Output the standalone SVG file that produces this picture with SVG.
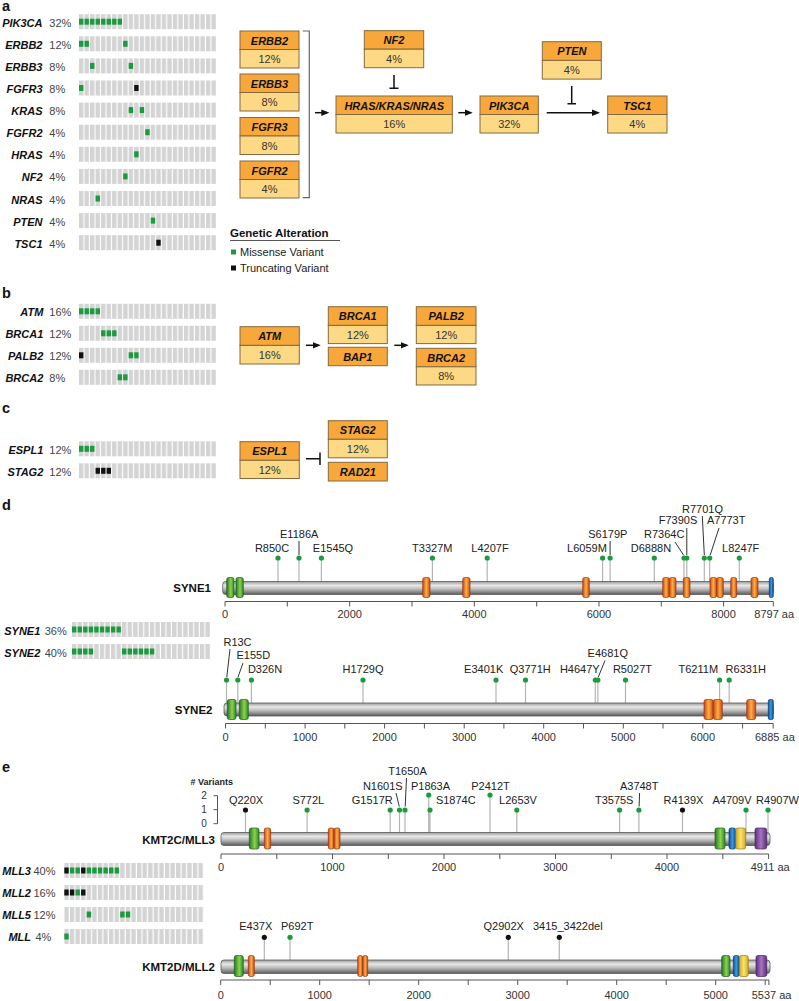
<svg xmlns="http://www.w3.org/2000/svg" width="799" height="1001" viewBox="0 0 799 1001">
<defs>
<style>
text{font-family:"Liberation Sans",Arial,sans-serif}
.pl{font-size:14.5px;font-weight:bold;fill:#111}
.gn{font-size:11px;font-weight:bold;font-style:italic;text-anchor:end;fill:#111}
.pc{font-size:11px;fill:#444}
.bh{font-size:11px;font-weight:bold;font-style:italic;text-anchor:middle;fill:#111}
.bb{font-size:11px;text-anchor:middle;fill:#333}
.hd{fill:#f8a83a;stroke:#85693c;stroke-width:1}
.bd{fill:#fdd985;stroke:#85693c;stroke-width:1}
.g{fill:#1b9a3e}
.k{fill:#111}
.ml{font-size:11px;text-anchor:middle;fill:#222}
.tk{font-size:11px;text-anchor:middle;fill:#333}
.tks{font-size:11px;fill:#333}
.pn{font-size:11.5px;font-weight:bold;text-anchor:end;fill:#111}
.st{stroke:#b4b4b4;stroke-width:1.2;fill:none}
.cn{stroke:#333;stroke-width:1;fill:none}
.ax{stroke:#555;stroke-width:1;fill:none}
.bar{fill:url(#gBar);stroke:#5a5a5a;stroke-width:0.8}
.dO{fill:url(#gO);stroke:#9a3512;stroke-width:0.7}
.dG{fill:url(#gG);stroke:#235f22;stroke-width:0.7}
.dB{fill:url(#gB);stroke:#0c3f7a;stroke-width:0.7}
.dY{fill:url(#gY);stroke:#9a7a18;stroke-width:0.7}
.dP{fill:url(#gP);stroke:#4a2460;stroke-width:0.7}
.conn{stroke:#111;stroke-width:1.5;fill:none}
.brk{stroke:#666;stroke-width:1.2;fill:none}
.lg{font-size:11px;fill:#222}
</style>
<pattern id="pA" width="5.52" height="40" patternUnits="userSpaceOnUse"><rect width="4.4" height="40" fill="#d4d4d4"/></pattern>
<pattern id="pD" width="5.56" height="40" patternUnits="userSpaceOnUse"><rect width="4.4" height="40" fill="#d4d4d4"/></pattern>
<pattern id="pE" width="5.59" height="40" patternUnits="userSpaceOnUse"><rect width="4.4" height="40" fill="#d4d4d4"/></pattern>
<linearGradient id="gBar" x1="0" y1="0" x2="0" y2="1"><stop offset="0" stop-color="#9a9a9a"/><stop offset="0.3" stop-color="#e8e8e8"/><stop offset="0.6" stop-color="#b8b8b8"/><stop offset="1" stop-color="#5a5a5a"/></linearGradient>
<linearGradient id="gO" x1="0" y1="0" x2="1" y2="0"><stop offset="0" stop-color="#cc4420"/><stop offset="0.5" stop-color="#fbb33e"/><stop offset="1" stop-color="#cc4420"/></linearGradient>
<linearGradient id="gG" x1="0" y1="0" x2="1" y2="0"><stop offset="0" stop-color="#1f7a2a"/><stop offset="0.55" stop-color="#8fd14a"/><stop offset="1" stop-color="#2a8a2e"/></linearGradient>
<linearGradient id="gB" x1="0" y1="0" x2="1" y2="0"><stop offset="0" stop-color="#0d4f9a"/><stop offset="0.5" stop-color="#3a9ae0"/><stop offset="1" stop-color="#0d4f9a"/></linearGradient>
<linearGradient id="gY" x1="0" y1="0" x2="1" y2="0"><stop offset="0" stop-color="#d2a824"/><stop offset="0.5" stop-color="#fbe36a"/><stop offset="1" stop-color="#d2a824"/></linearGradient>
<linearGradient id="gP" x1="0" y1="0" x2="1" y2="0"><stop offset="0" stop-color="#5e2f7a"/><stop offset="0.5" stop-color="#a574c4"/><stop offset="1" stop-color="#5e2f7a"/></linearGradient>
<marker id="ah" viewBox="0 0 8 8" refX="6" refY="4" markerWidth="8" markerHeight="8" markerUnits="userSpaceOnUse" orient="auto"><path d="M0,0.8 L8,4 L0,7.2z" fill="#111"/></marker>
</defs>
<rect width="799" height="1001" fill="#fff"/>

<!-- panel letters -->
<text class="pl" x="2" y="11">a</text>
<text class="pl" x="2" y="298">b</text>
<text class="pl" x="2" y="413">c</text>
<text class="pl" x="2" y="510">d</text>
<text class="pl" x="2" y="771.5">e</text>

<!-- panel a oncoprint -->
<g id="onco-a">
<text class="gn" x="42.5" y="26.7">PIK3CA</text><text class="pc" x="49.3" y="26.7">32%</text>
<text class="gn" x="42.5" y="48.8">ERBB2</text><text class="pc" x="49.3" y="48.8">12%</text>
<text class="gn" x="42.5" y="70.9">ERBB3</text><text class="pc" x="49.3" y="70.9">8%</text>
<text class="gn" x="42.5" y="93">FGFR3</text><text class="pc" x="49.3" y="93">8%</text>
<text class="gn" x="42.5" y="115.1">KRAS</text><text class="pc" x="49.3" y="115.1">8%</text>
<text class="gn" x="42.5" y="137.2">FGFR2</text><text class="pc" x="49.3" y="137.2">4%</text>
<text class="gn" x="42.5" y="159.3">HRAS</text><text class="pc" x="49.3" y="159.3">4%</text>
<text class="gn" x="42.5" y="181.4">NF2</text><text class="pc" x="49.3" y="181.4">4%</text>
<text class="gn" x="42.5" y="203.5">NRAS</text><text class="pc" x="49.3" y="203.5">4%</text>
<text class="gn" x="42.5" y="225.6">PTEN</text><text class="pc" x="49.3" y="225.6">4%</text>
<text class="gn" x="42.5" y="247.7">TSC1</text><text class="pc" x="49.3" y="247.7">4%</text>
<g transform="translate(79,0)">
<rect x="0" y="14.2" width="138" height="15" fill="url(#pA)"/>
<rect x="0" y="36.3" width="138" height="15" fill="url(#pA)"/>
<rect x="0" y="58.4" width="138" height="15" fill="url(#pA)"/>
<rect x="0" y="80.5" width="138" height="15" fill="url(#pA)"/>
<rect x="0" y="102.6" width="138" height="15" fill="url(#pA)"/>
<rect x="0" y="124.7" width="138" height="15" fill="url(#pA)"/>
<rect x="0" y="146.8" width="138" height="15" fill="url(#pA)"/>
<rect x="0" y="168.9" width="138" height="15" fill="url(#pA)"/>
<rect x="0" y="191" width="138" height="15" fill="url(#pA)"/>
<rect x="0" y="213.1" width="138" height="15" fill="url(#pA)"/>
<rect x="0" y="235.2" width="138" height="15" fill="url(#pA)"/>
<rect class="g" x="0" y="18.7" width="4.4" height="6"/><rect class="g" x="5.52" y="18.7" width="4.4" height="6"/><rect class="g" x="11.04" y="18.7" width="4.4" height="6"/><rect class="g" x="16.56" y="18.7" width="4.4" height="6"/><rect class="g" x="22.08" y="18.7" width="4.4" height="6"/><rect class="g" x="27.6" y="18.7" width="4.4" height="6"/><rect class="g" x="33.12" y="18.7" width="4.4" height="6"/><rect class="g" x="38.64" y="18.7" width="4.4" height="6"/>
<rect class="g" x="0" y="40.8" width="4.4" height="6"/><rect class="g" x="5.52" y="40.8" width="4.4" height="6"/><rect class="g" x="44.16" y="40.8" width="4.4" height="6"/>
<rect class="g" x="11.04" y="62.9" width="4.4" height="6"/><rect class="g" x="49.68" y="62.9" width="4.4" height="6"/>
<rect class="g" x="0" y="85" width="4.4" height="6"/><rect class="k" x="55.2" y="85" width="4.4" height="6"/>
<rect class="g" x="49.68" y="107.1" width="4.4" height="6"/><rect class="g" x="60.72" y="107.1" width="4.4" height="6"/>
<rect class="g" x="66.24" y="129.2" width="4.4" height="6"/>
<rect class="g" x="55.2" y="151.3" width="4.4" height="6"/>
<rect class="g" x="44.16" y="173.4" width="4.4" height="6"/>
<rect class="g" x="16.56" y="195.5" width="4.4" height="6"/>
<rect class="g" x="71.76" y="217.6" width="4.4" height="6"/>
<rect class="k" x="77.28" y="239.7" width="4.4" height="6"/>
</g>
</g>

<!-- legend -->
<g id="legend">
<text x="230" y="237" style="font-size:11.5px;font-weight:bold;fill:#111">Genetic Alteration</text>
<path d="M230,240.5 H340" class="ax"/>
<rect class="g" x="231" y="249.5" width="5" height="5"/>
<text class="lg" x="240" y="256">Missense Variant</text>
<rect class="k" x="231" y="265.5" width="5" height="5"/>
<text class="lg" x="240" y="272">Truncating Variant</text>
</g>

<!-- panel a pathway nodes -->
<g id="n-ERBB2"><rect class="hd" x="240" y="31" width="59" height="18.5"/><rect class="bd" x="240" y="49.5" width="59" height="18.5"/><text class="bh" x="269.5" y="44.5">ERBB2</text><text class="bb" x="269.5" y="63">12%</text></g>
<g id="n-ERBB3"><rect class="hd" x="240" y="74" width="59" height="18.5"/><rect class="bd" x="240" y="92.5" width="59" height="18.5"/><text class="bh" x="269.5" y="87.5">ERBB3</text><text class="bb" x="269.5" y="106">8%</text></g>
<g id="n-FGFR3"><rect class="hd" x="240" y="117.5" width="59" height="18.5"/><rect class="bd" x="240" y="136" width="59" height="18.5"/><text class="bh" x="269.5" y="131">FGFR3</text><text class="bb" x="269.5" y="149.5">8%</text></g>
<g id="n-FGFR2"><rect class="hd" x="240" y="161" width="59" height="18.5"/><rect class="bd" x="240" y="179.5" width="59" height="18.5"/><text class="bh" x="269.5" y="174.5">FGFR2</text><text class="bb" x="269.5" y="193">4%</text></g>
<g id="n-NF2"><rect class="hd" x="364.3" y="30.7" width="59.4" height="18.5"/><rect class="bd" x="364.3" y="49.2" width="59.4" height="18.5"/><text class="bh" x="394" y="44.2">NF2</text><text class="bb" x="394" y="62.7">4%</text></g>
<g id="n-HRAS"><rect class="hd" x="336" y="96" width="116.3" height="18.5"/><rect class="bd" x="336" y="114.5" width="116.3" height="18.5"/><text class="bh" x="394.2" y="109.5">HRAS/KRAS/NRAS</text><text class="bb" x="394.2" y="128">16%</text></g>
<g id="n-PIK3CA"><rect class="hd" x="480" y="96" width="58.3" height="18.5"/><rect class="bd" x="480" y="114.5" width="58.3" height="18.5"/><text class="bh" x="509.2" y="109.5">PIK3CA</text><text class="bb" x="509.2" y="128">32%</text></g>
<g id="n-PTEN"><rect class="hd" x="542.3" y="41.7" width="59" height="18.7"/><rect class="bd" x="542.3" y="60.4" width="59" height="18.7"/><text class="bh" x="571.8" y="55.2">PTEN</text><text class="bb" x="571.8" y="73.9">4%</text></g>
<g id="n-TSC1"><rect class="hd" x="607.7" y="96" width="59.3" height="18.5"/><rect class="bd" x="607.7" y="114.5" width="59.3" height="18.5"/><text class="bh" x="637.3" y="109.5">TSC1</text><text class="bb" x="637.3" y="128">4%</text></g>

<!-- panel b oncoprint -->
<g id="onco-b">
<text class="gn" x="43.3" y="316.3">ATM</text><text class="pc" x="49.3" y="316.3">16%</text>
<text class="gn" x="43.3" y="338.3">BRCA1</text><text class="pc" x="49.3" y="338.3">12%</text>
<text class="gn" x="43.3" y="360.3">PALB2</text><text class="pc" x="49.3" y="360.3">12%</text>
<text class="gn" x="43.3" y="382.3">BRCA2</text><text class="pc" x="49.3" y="382.3">8%</text>
<g transform="translate(79,0)">
<rect x="0" y="303.8" width="138" height="15" fill="url(#pA)"/>
<rect x="0" y="325.8" width="138" height="15" fill="url(#pA)"/>
<rect x="0" y="347.8" width="138" height="15" fill="url(#pA)"/>
<rect x="0" y="369.8" width="138" height="15" fill="url(#pA)"/>
<rect class="g" x="0" y="308.3" width="4.4" height="6"/><rect class="g" x="5.52" y="308.3" width="4.4" height="6"/><rect class="g" x="11.04" y="308.3" width="4.4" height="6"/><rect class="g" x="16.56" y="308.3" width="4.4" height="6"/>
<rect class="g" x="22.08" y="330.3" width="4.4" height="6"/><rect class="g" x="27.6" y="330.3" width="4.4" height="6"/><rect class="g" x="33.12" y="330.3" width="4.4" height="6"/>
<rect class="k" x="0" y="352.3" width="4.4" height="6"/><rect class="g" x="49.68" y="352.3" width="4.4" height="6"/><rect class="g" x="55.2" y="352.3" width="4.4" height="6"/>
<rect class="g" x="38.64" y="374.3" width="4.4" height="6"/><rect class="g" x="44.16" y="374.3" width="4.4" height="6"/>
</g>
</g>

<!-- panel b nodes -->
<g id="n-ATM"><rect class="hd" x="240" y="326.7" width="59.3" height="18.7"/><rect class="bd" x="240" y="345.4" width="59.3" height="18.6"/><text class="bh" x="269.7" y="340.2">ATM</text><text class="bb" x="269.7" y="358.8">16%</text></g>
<g id="n-BRCA1"><rect class="hd" x="328.3" y="306.7" width="59" height="18.7"/><rect class="bd" x="328.3" y="325.4" width="59" height="18.2"/><text class="bh" x="357.8" y="320.2">BRCA1</text><text class="bb" x="357.8" y="338.8">12%</text></g>
<g id="n-BAP1"><rect class="hd" x="328.3" y="347.3" width="59" height="18.4"/><text class="bh" x="357.8" y="360.8">BAP1</text></g>
<g id="n-PALB2"><rect class="hd" x="416.3" y="306.7" width="59.7" height="18.7"/><rect class="bd" x="416.3" y="325.4" width="59.7" height="18.2"/><text class="bh" x="446.2" y="320.2">PALB2</text><text class="bb" x="446.2" y="338.8">12%</text></g>
<g id="n-BRCA2"><rect class="hd" x="416.3" y="348.3" width="59.7" height="18.5"/><rect class="bd" x="416.3" y="366.8" width="59.7" height="18.2"/><text class="bh" x="446.2" y="361.8">BRCA2</text><text class="bb" x="446.2" y="380.3">8%</text></g>

<!-- panel c oncoprint -->
<g id="onco-c">
<text class="gn" x="43.3" y="453.8">ESPL1</text><text class="pc" x="49.3" y="453.8">12%</text>
<text class="gn" x="43.3" y="475.8">STAG2</text><text class="pc" x="49.3" y="475.8">12%</text>
<g transform="translate(79,0)">
<rect x="0" y="441.3" width="138" height="15" fill="url(#pA)"/>
<rect x="0" y="463.3" width="138" height="15" fill="url(#pA)"/>
<rect class="g" x="0" y="445.8" width="4.4" height="6"/><rect class="g" x="5.52" y="445.8" width="4.4" height="6"/><rect class="g" x="11.04" y="445.8" width="4.4" height="6"/>
<rect class="k" x="16.56" y="467.8" width="4.4" height="6"/><rect class="k" x="22.08" y="467.8" width="4.4" height="6"/><rect class="k" x="27.6" y="467.8" width="4.4" height="6"/>
</g>
</g>

<!-- panel c nodes -->
<g id="n-ESPL1"><rect class="hd" x="240" y="441.7" width="59.3" height="18.6"/><rect class="bd" x="240" y="460.3" width="59.3" height="18.2"/><text class="bh" x="269.7" y="455.2">ESPL1</text><text class="bb" x="269.7" y="474">12%</text></g>
<g id="n-STAG2"><rect class="hd" x="328.3" y="420.7" width="59" height="18.6"/><rect class="bd" x="328.3" y="439.3" width="59" height="18.5"/><text class="bh" x="357.8" y="434.2">STAG2</text><text class="bb" x="357.8" y="452.8">12%</text></g>
<g id="n-RAD21"><rect class="hd" x="328.3" y="462.3" width="59" height="18.7"/><text class="bh" x="357.8" y="476">RAD21</text></g>

<!-- connectors -->
<g id="connectors">
<path class="brk" d="M302.7,31 H309.3 V197.7 H302.7"/>
<path class="conn" d="M315,112.7 H327.3" marker-end="url(#ah)"/>
<path class="conn" d="M394,75 V88.3 M389.5,88.3 H398.5"/>
<path class="conn" d="M458.3,112.7 H470.7" marker-end="url(#ah)"/>
<path class="conn" d="M546.7,112.7 H598" marker-end="url(#ah)"/>
<path class="conn" d="M571.7,86 V103.7 M567.5,103.7 H576"/>
<path class="conn" d="M306,345.3 H318.7" marker-end="url(#ah)"/>
<path class="conn" d="M394.3,345.3 H406.7" marker-end="url(#ah)"/>
<path class="conn" d="M306,458.7 H320 M320,452.5 V465"/>
</g>

<!-- panel d oncoprint -->
<g id="onco-d">
<text class="gn" x="40.3" y="634.5">SYNE1</text><text class="pc" x="44.7" y="634.5">36%</text>
<text class="gn" x="40.3" y="656.5">SYNE2</text><text class="pc" x="44.7" y="656.5">40%</text>
<g transform="translate(72,0)">
<rect x="0" y="622" width="139" height="15" fill="url(#pD)"/>
<rect x="0" y="644" width="139" height="15" fill="url(#pD)"/>
<rect class="g" x="0" y="626.5" width="4.4" height="6"/><rect class="g" x="5.56" y="626.5" width="4.4" height="6"/><rect class="g" x="11.12" y="626.5" width="4.4" height="6"/><rect class="g" x="16.68" y="626.5" width="4.4" height="6"/><rect class="g" x="22.24" y="626.5" width="4.4" height="6"/><rect class="g" x="27.8" y="626.5" width="4.4" height="6"/><rect class="g" x="33.36" y="626.5" width="4.4" height="6"/><rect class="g" x="38.92" y="626.5" width="4.4" height="6"/><rect class="g" x="44.48" y="626.5" width="4.4" height="6"/>
<rect class="g" x="0" y="648.5" width="4.4" height="6"/><rect class="g" x="5.56" y="648.5" width="4.4" height="6"/><rect class="g" x="11.12" y="648.5" width="4.4" height="6"/><rect class="g" x="16.68" y="648.5" width="4.4" height="6"/>
<rect class="g" x="50.04" y="648.5" width="4.4" height="6"/><rect class="g" x="55.6" y="648.5" width="4.4" height="6"/><rect class="g" x="61.16" y="648.5" width="4.4" height="6"/><rect class="g" x="66.72" y="648.5" width="4.4" height="6"/><rect class="g" x="72.28" y="648.5" width="4.4" height="6"/><rect class="g" x="77.84" y="648.5" width="4.4" height="6"/>
</g>
</g>

<!-- SYNE1 protein -->
<g id="p-SYNE1">
<text class="pn" x="211" y="592">SYNE1</text>
<path class="st" d="M278,558V582 M299,558V582 M321.4,558V582 M432.4,558V582 M487.2,558V582 M602.6,558V582 M610.1,558V582 M654.3,558V582 M684,558V582 M686.8,558V582 M704.3,558V582 M709.7,558V582 M739.3,558V582"/>
<path class="cn" d="M299,541V555 M610.1,541V555 M675,542L683.5,555 M686.8,528V555 M702.3,516L704.3,555 M719,528L710.2,555"/>
<rect class="bar" x="222.7" y="581.5" width="550.6" height="13" rx="3"/>
<rect class="dG" x="226.7" y="577.5" width="7.3" height="20" rx="2"/><rect class="dG" x="236" y="577.5" width="7.3" height="20" rx="2"/>
<rect class="dO" x="422.7" y="577.5" width="7.3" height="20" rx="2"/><rect class="dO" x="462.7" y="577.5" width="7.3" height="20" rx="2"/><rect class="dO" x="582.7" y="577.5" width="6.6" height="20" rx="2"/><rect class="dO" x="662.7" y="577.5" width="6.6" height="20" rx="2"/><rect class="dO" x="669.3" y="577.5" width="6.7" height="20" rx="2"/><rect class="dO" x="683.3" y="577.5" width="6.7" height="20" rx="2"/><rect class="dO" x="710" y="577.5" width="6.7" height="20" rx="2"/><rect class="dO" x="716.7" y="577.5" width="6.6" height="20" rx="2"/><rect class="dO" x="730.7" y="577.5" width="6" height="20" rx="2"/><rect class="dO" x="751" y="577.5" width="7" height="20" rx="2"/>
<rect class="dB" x="769.3" y="577.5" width="4" height="20" rx="1.5"/>
<g class="g"><circle cx="278" cy="558" r="2.6"/><circle cx="299" cy="558" r="2.6"/><circle cx="321.4" cy="558" r="2.6"/><circle cx="432.4" cy="558" r="2.6"/><circle cx="487.2" cy="558" r="2.6"/><circle cx="602.6" cy="558" r="2.6"/><circle cx="610.1" cy="558" r="2.6"/><circle cx="654.3" cy="558" r="2.6"/><circle cx="684" cy="558" r="2.6"/><circle cx="686.8" cy="558" r="2.6"/><circle cx="704.3" cy="558" r="2.6"/><circle cx="709.7" cy="558" r="2.6"/><circle cx="739.3" cy="558" r="2.6"/></g>
<text class="ml" x="272" y="552">R850C</text>
<text class="ml" x="299.2" y="538">E1186A</text>
<text class="ml" x="333" y="552">E1545Q</text>
<text class="ml" x="432.3" y="552">T3327M</text>
<text class="ml" x="490" y="552">L4207F</text>
<text class="ml" x="587" y="552">L6059M</text>
<text class="ml" x="607.8" y="538">S6179P</text>
<text class="ml" x="651" y="552">D6888N</text>
<text class="ml" x="664.2" y="538">R7364C</text>
<text class="ml" x="678" y="524.3">F7390S</text>
<text class="ml" x="702.5" y="512.7">R7701Q</text>
<text class="ml" x="726.2" y="524.3">A7773T</text>
<text class="ml" x="740.7" y="552">L8247F</text>
<path class="ax" d="M225,601.5H773.3 M225,601.5v5 M287.3,601.5v5 M349.7,601.5v5 M412,601.5v5 M474.3,601.5v5 M536.7,601.5v5 M599,601.5v5 M661.3,601.5v5 M723.6,601.5v5 M773.3,601.5v5"/>
<text class="tk" x="225" y="618">0</text><text class="tk" x="349.7" y="618">2000</text><text class="tk" x="474.3" y="618">4000</text><text class="tk" x="599" y="618">6000</text><text class="tk" x="723.6" y="618">8000</text><text class="tks" x="754.3" y="618">8797 aa</text>
</g>

<!-- SYNE2 protein -->
<g id="p-SYNE2">
<text class="pn" x="212.5" y="714">SYNE2</text>
<path class="st" d="M226.5,680V703 M237.8,680V703 M251.4,680V703 M363,680V703 M496,680V703 M525.5,680V703 M595.3,680V703 M597.9,680V703 M625.5,680V703 M719.6,680V703 M729.2,680V703"/>
<path class="cn" d="M230,649L226.8,677 M243,663L238,677 M605,660.5L598.3,677"/>
<rect class="bar" x="224" y="703" width="549.3" height="13" rx="3"/>
<rect class="dG" x="227.3" y="699.5" width="8.7" height="20" rx="2"/><rect class="dG" x="239.3" y="699.5" width="9" height="20" rx="2"/>
<rect class="dO" x="704" y="699.5" width="9.3" height="20" rx="2"/><rect class="dO" x="713.3" y="699.5" width="9" height="20" rx="2"/><rect class="dO" x="746.7" y="699.5" width="9" height="20" rx="2"/>
<rect class="dB" x="768.3" y="699.5" width="5" height="20" rx="1.5"/>
<g class="g"><circle cx="226.5" cy="680" r="2.6"/><circle cx="237.8" cy="680" r="2.6"/><circle cx="251.4" cy="680" r="2.6"/><circle cx="363" cy="680" r="2.6"/><circle cx="496" cy="680" r="2.6"/><circle cx="525.5" cy="680" r="2.6"/><circle cx="595.3" cy="680" r="2.6"/><circle cx="597.9" cy="680" r="2.6"/><circle cx="625.5" cy="680" r="2.6"/><circle cx="719.6" cy="680" r="2.6"/><circle cx="729.2" cy="680" r="2.6"/></g>
<text class="ml" x="237.5" y="645.7">R13C</text>
<text class="ml" x="253.3" y="659.3">E155D</text>
<text class="ml" x="265" y="673.3">D326N</text>
<text class="ml" x="363" y="673.3">H1729Q</text>
<text class="ml" x="483.7" y="673.3">E3401K</text>
<text class="ml" x="530.3" y="673.3">Q3771H</text>
<text class="ml" x="579.8" y="673.3">H4647Y</text>
<text class="ml" x="607.8" y="656.7">E4681Q</text>
<text class="ml" x="632.5" y="673.3">R5027T</text>
<text class="ml" x="698.3" y="673.3">T6211M</text>
<text class="ml" x="745.8" y="673.3">R6331H</text>
<path class="ax" d="M225.5,723.5H773.2 M225.5,723.5v5 M265.3,723.5v5 M305.1,723.5v5 M344.8,723.5v5 M384.6,723.5v5 M424.4,723.5v5 M464.2,723.5v5 M503.9,723.5v5 M543.7,723.5v5 M583.5,723.5v5 M623.3,723.5v5 M663,723.5v5 M702.8,723.5v5 M742.6,723.5v5 M773.2,723.5v5"/>
<text class="tk" x="225.5" y="740.5">0</text><text class="tk" x="305.1" y="740.5">1000</text><text class="tk" x="384.6" y="740.5">2000</text><text class="tk" x="464.2" y="740.5">3000</text><text class="tk" x="543.7" y="740.5">4000</text><text class="tk" x="623.3" y="740.5">5000</text><text class="tk" x="702.8" y="740.5">6000</text><text class="tks" x="755" y="740.5">6885 aa</text>
</g>

<!-- panel e oncoprint -->
<g id="onco-e">
<text class="gn" x="31" y="875">MLL3</text><text class="pc" x="33.5" y="875">40%</text>
<text class="gn" x="31" y="897">MLL2</text><text class="pc" x="33.5" y="897">16%</text>
<text class="gn" x="31" y="919">MLL5</text><text class="pc" x="33.5" y="919">12%</text>
<text class="gn" x="31" y="941">MLL</text><text class="pc" x="35.5" y="941">4%</text>
<g transform="translate(64.3,0)">
<rect x="0" y="863" width="139.7" height="15" fill="url(#pE)"/>
<rect x="0" y="885" width="139.7" height="15" fill="url(#pE)"/>
<rect x="0" y="907" width="139.7" height="15" fill="url(#pE)"/>
<rect x="0" y="929" width="139.7" height="15" fill="url(#pE)"/>
<rect class="k" x="0" y="867.5" width="4.4" height="6"/><rect class="g" x="5.59" y="867.5" width="4.4" height="6"/><rect class="g" x="11.18" y="867.5" width="4.4" height="6"/><rect class="k" x="16.77" y="867.5" width="4.4" height="6"/><rect class="g" x="22.36" y="867.5" width="4.4" height="6"/><rect class="g" x="27.95" y="867.5" width="4.4" height="6"/><rect class="g" x="33.54" y="867.5" width="4.4" height="6"/><rect class="g" x="39.13" y="867.5" width="4.4" height="6"/><rect class="g" x="44.72" y="867.5" width="4.4" height="6"/><rect class="g" x="50.31" y="867.5" width="4.4" height="6"/>
<rect class="k" x="0" y="889.5" width="4.4" height="6"/><rect class="k" x="5.59" y="889.5" width="4.4" height="6"/><rect class="g" x="11.18" y="889.5" width="4.4" height="6"/><rect class="k" x="16.77" y="889.5" width="4.4" height="6"/>
<rect class="g" x="22.36" y="911.5" width="4.4" height="6"/><rect class="g" x="55.9" y="911.5" width="4.4" height="6"/><rect class="g" x="61.49" y="911.5" width="4.4" height="6"/>
<rect class="g" x="0" y="933.5" width="4.4" height="6"/>
</g>
</g>

<!-- KMT2C protein -->
<g id="p-KMT2C">
<text x="211.7" y="785" style="font-size:9px;font-weight:bold;text-anchor:middle;fill:#222"># Variants</text>
<path class="ax" d="M213.5,795.7H217.5V823.7H213.5 M213.5,809.7H217.5"/>
<text x="204" y="799" style="font-size:10px;text-anchor:middle;fill:#333">2</text>
<text x="204" y="813" style="font-size:10px;text-anchor:middle;fill:#333">1</text>
<text x="204" y="827" style="font-size:10px;text-anchor:middle;fill:#333">0</text>
<text class="pn" x="215" y="844">KMT2C/MLL3</text>
<path class="st" d="M245.5,810V833 M307.1,810V833 M390.2,810V833 M399.5,810V833 M405,810V833 M428.7,795V833 M430,810V833 M490,795V833 M516.8,810V833 M619.6,810V833 M638.9,810V833 M682.5,810V833 M746,810V833 M768,810V833"/>
<path class="cn" d="M396,793L399.3,806.5 M406.5,778L405.2,806.5 M639.6,793L639.1,806.5"/>
<rect class="bar" x="221" y="832.5" width="549" height="13" rx="3"/>
<rect class="dG" x="249.3" y="828" width="9.7" height="21" rx="2"/>
<rect class="dO" x="264.3" y="828" width="6.4" height="21" rx="2"/>
<rect class="dO" x="328.3" y="828" width="5.7" height="21" rx="2"/><rect class="dO" x="334" y="828" width="6" height="21" rx="2"/>
<rect class="dG" x="715" y="828" width="10" height="21" rx="2"/>
<rect class="dB" x="729" y="828" width="6.7" height="21" rx="2"/>
<rect class="dY" x="735.7" y="828" width="10" height="21" rx="2"/>
<rect class="dP" x="755" y="828" width="11.7" height="21" rx="2"/>
<g class="g"><circle cx="307.1" cy="810" r="2.6"/><circle cx="390.2" cy="810" r="2.6"/><circle cx="399.5" cy="810" r="2.6"/><circle cx="405" cy="810" r="2.6"/><circle cx="428.7" cy="795" r="2.6"/><circle cx="430" cy="810" r="2.6"/><circle cx="490" cy="795" r="2.6"/><circle cx="516.8" cy="810" r="2.6"/><circle cx="619.6" cy="810" r="2.6"/><circle cx="638.9" cy="810" r="2.6"/><circle cx="746" cy="810" r="2.6"/><circle cx="768" cy="810" r="2.6"/></g>
<g class="k"><circle cx="245.5" cy="810" r="2.6"/><circle cx="682.5" cy="810" r="2.6"/></g>
<text class="ml" x="246" y="804">Q220X</text>
<text class="ml" x="308.3" y="804">S772L</text>
<text class="ml" x="372.3" y="804">G1517R</text>
<text class="ml" x="382.8" y="790">N1601S</text>
<text class="ml" x="407.5" y="775">T1650A</text>
<text class="ml" x="430.5" y="790">P1863A</text>
<text class="ml" x="455.8" y="804">S1874C</text>
<text class="ml" x="490.5" y="790">P2412T</text>
<text class="ml" x="518" y="804">L2653V</text>
<text class="ml" x="614.2" y="804">T3575S</text>
<text class="ml" x="639.2" y="790">A3748T</text>
<text class="ml" x="683.5" y="804">R4139X</text>
<text class="ml" x="732" y="804">A4709V</text>
<text class="ml" x="777.5" y="804">R4907W</text>
<path class="ax" d="M221,854H768.6 M221,854v5 M276.8,854v5 M332.5,854v5 M388.3,854v5 M444,854v5 M499.8,854v5 M555.5,854v5 M611.3,854v5 M667,854v5 M722.8,854v5 M768.6,854v5"/>
<text class="tk" x="221" y="870.7">0</text><text class="tk" x="332.5" y="870.7">1000</text><text class="tk" x="444" y="870.7">2000</text><text class="tk" x="555.5" y="870.7">3000</text><text class="tk" x="667" y="870.7">4000</text><text class="tks" x="750.7" y="870.7">4911 aa</text>
</g>

<!-- KMT2D protein -->
<g id="p-KMT2D">
<text class="pn" x="215" y="970.5">KMT2D/MLL2</text>
<path class="st" d="M264.3,937.3V960 M290,937.3V960 M508.3,937.3V960 M559.3,937.3V960"/>
<rect class="bar" x="221" y="960" width="549" height="13.5" rx="3"/>
<rect class="dG" x="234.3" y="955.5" width="9" height="21" rx="2"/>
<rect class="dO" x="248.3" y="955.5" width="6" height="21" rx="2"/>
<rect class="dO" x="357.7" y="955.5" width="5" height="21" rx="2"/><rect class="dO" x="362.7" y="955.5" width="5" height="21" rx="2"/>
<rect class="dG" x="721.7" y="955.5" width="8.3" height="21" rx="2"/>
<rect class="dB" x="733.3" y="955.5" width="6" height="21" rx="2"/>
<rect class="dY" x="739.3" y="955.5" width="9" height="21" rx="2"/>
<rect class="dP" x="756" y="955.5" width="10.7" height="21" rx="2"/>
<circle class="k" cx="264.3" cy="937.3" r="2.6"/>
<circle class="g" cx="290" cy="937.3" r="2.6"/>
<circle class="k" cx="508.3" cy="937.3" r="2.6"/>
<circle class="k" cx="559.3" cy="937.3" r="2.6"/>
<text class="ml" x="255.8" y="929.5">E437X</text>
<text class="ml" x="297.2" y="929.5">P692T</text>
<text class="ml" x="503.7" y="930">Q2902X</text>
<text class="ml" x="567.8" y="930">3415_3422del</text>
<path class="ax" d="M220.7,980H768.9 M220.7,980v5 M270.2,980v5 M319.7,980v5 M369.2,980v5 M418.7,980v5 M468.2,980v5 M517.7,980v5 M567.2,980v5 M616.7,980v5 M666.2,980v5 M715.7,980v5 M765.2,980v5 M768.9,980v5"/>
<text class="tk" x="220.7" y="998.5">0</text><text class="tk" x="319.7" y="998.5">1000</text><text class="tk" x="418.7" y="998.5">2000</text><text class="tk" x="517.7" y="998.5">3000</text><text class="tk" x="616.7" y="998.5">4000</text><text class="tk" x="715.7" y="998.5">5000</text><text class="tks" x="751.7" y="998.5">5537 aa</text>
</g>
</svg>
